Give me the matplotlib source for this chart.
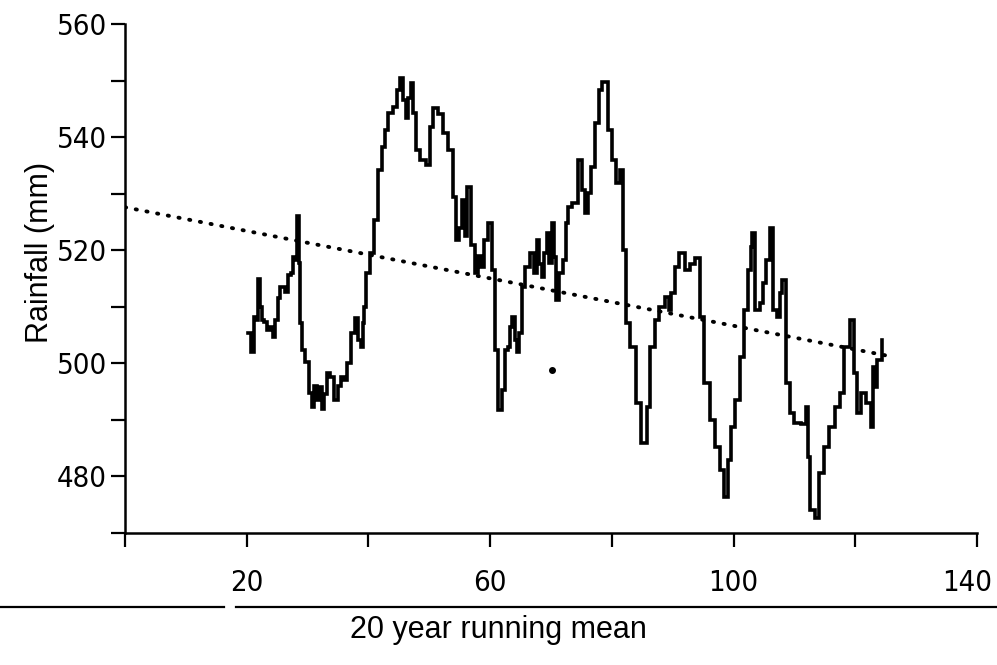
import matplotlib.pyplot as plt
import matplotlib.transforms as mtransforms
from matplotlib.lines import Line2D

# 20 year running mean of rainfall
run_year = [20.2, 21.2, 21.2, 21.9, 21.9, 22.5, 22.5, 23.3, 23.3, 24.3,
            24.3, 25.1, 25.1, 25.8, 26.8, 26.8, 27.6, 27.6, 28.3, 28.3,
            28.8, 28.8, 29.2, 29.9, 30.4, 30.9, 31.3, 31.7, 32.1, 32.5,
            33.0, 33.4, 34.0, 34.8, 35.2, 35.7, 36.2, 36.6, 37.5, 38.1,
            38.5, 38.9, 39.2, 39.4, 39.9, 40.6, 41.1, 41.9, 42.4, 43.0,
            43.5, 44.4, 44.9, 45.5, 45.9, 46.3, 46.8, 47.2, 47.6, 48.0,
            49.0, 49.8, 50.4, 50.9, 51.8, 52.6, 53.7, 54.1, 54.7, 55.2,
            55.7, 56.0, 56.4, 57.2, 57.7, 58.2, 58.7, 59.3, 60.0, 60.5,
            61.0, 61.6, 62.4, 62.4, 63.3, 63.3, 63.8, 64.2, 64.6, 65.0,
            65.4, 66.2, 66.9, 67.4, 67.9, 68.3, 68.7, 69.1, 69.5, 69.9,
            70.3, 70.7, 71.0, 71.5, 72.3, 72.6, 73.1, 73.9, 74.8, 75.3,
            75.9, 76.3, 76.7, 77.6, 78.0, 78.9, 79.7, 80.2, 81.0, 81.6,
            82.2, 82.5, 83.5, 84.3, 85.4, 86.0, 86.6, 87.4, 88.2, 89.1,
            89.5, 90.0, 90.7, 91.5, 92.5, 93.2, 94.0, 94.8, 95.6, 96.5,
            97.3, 98.1, 98.6, 99.4, 99.9, 100.6, 101.4, 101.9, 102.7, 102.9,
            103.2, 103.8, 104.8, 104.8, 105.7, 106.3, 106.8, 107.6, 107.6, 108.4,
            108.9, 109.6, 110.4, 111.6, 112.2, 112.2, 112.9, 113.7, 114.5, 115.3,
            116.2, 117.0, 117.8, 118.6, 119.5, 120.0, 120.4, 121.3, 122.1, 122.9,
            122.9, 123.6, 123.6, 124.4, 124.4]
run_mm = [505.4, 502.0, 508.2, 507.7, 514.9, 510.0, 507.7, 507.3, 505.9, 506.4,
          504.7, 507.7, 511.5, 513.5, 512.6, 515.6, 516.0, 518.8, 518.3, 526.1,
          517.7, 507.1, 502.4, 500.2, 494.8, 492.3, 496.0, 493.5, 495.8, 492.0,
          494.5, 498.3, 497.5, 493.5, 496.0, 497.6, 497.1, 500.1, 505.4, 508.0,
          504.1, 502.9, 507.1, 510.0, 516.0, 519.5, 525.3, 534.2, 538.2, 541.3,
          544.3, 545.3, 548.3, 550.4, 546.5, 543.4, 547.0, 549.6, 544.3, 537.7,
          536.0, 535.1, 541.8, 545.1, 544.0, 540.7, 537.7, 529.4, 521.8, 524.0,
          528.9, 522.5, 531.2, 521.0, 516.0, 519.0, 517.0, 521.8, 524.8, 516.5,
          502.4, 491.7, 495.3, 502.4, 502.9, 506.4, 508.2, 504.1, 502.0, 505.4,
          513.5, 517.0, 519.5, 516.0, 521.8, 517.5, 515.3, 519.5, 523.0, 517.7,
          524.8, 518.8, 511.2, 516.0, 518.3, 524.8, 527.6, 528.3, 535.9, 530.6,
          526.6, 530.1, 534.7, 542.5, 548.3, 549.7, 541.3, 535.9, 531.9, 534.2,
          520.0, 507.1, 502.9, 493.0, 485.9, 492.3, 502.9, 507.7, 510.0, 511.7,
          509.4, 512.4, 517.0, 519.5, 516.5, 517.5, 518.6, 508.2, 496.5, 490.0,
          485.2, 481.1, 476.4, 482.9, 488.7, 493.5, 501.1, 509.4, 516.5, 520.6,
          523.0, 509.4, 510.7, 514.2, 518.3, 523.9, 509.4, 508.2, 512.4, 514.7,
          496.5, 491.2, 489.4, 489.2, 492.3, 483.4, 474.1, 472.6, 480.6, 485.2,
          488.7, 492.3, 494.8, 502.9, 507.7, 498.3, 491.2, 494.8, 493.0, 488.7,
          499.3, 495.8, 500.6, 500.6, 504.1]

# linear trend (dotted)
trend_x = [0, 125]
trend_y = [527.6, 501.4]

# stray dot on the scan
stray_x = [70.2]
stray_y = [498.8]

x_ticks = [0, 20, 40, 60, 80, 100, 120, 140]
x_labeled = [20, 60, 100, 140]
y_ticks = [470, 480, 490, 500, 510, 520, 530, 540, 550, 560]
y_labeled = [480, 500, 520, 540, 560]

fig = plt.figure(figsize=(9.97, 6.65), dpi=100)
ax = fig.add_axes([0.1254, 0.1985, 0.8546, 0.7654])

ax.plot(run_year, run_mm, color='black', lw=2.6, drawstyle='steps-mid',
        solid_joinstyle='miter')
ax.plot(trend_x, trend_y, color='black', lw=2.8, linestyle=(0, (0.3, 2.5)),
        dash_capstyle='round')
ax.plot(stray_x, stray_y, 'o', color='black', ms=4)

ax.set_xlim(0, 140)
ax.set_ylim(470, 560)
for s in ['top', 'right']:
    ax.spines[s].set_visible(False)
for s in ['left', 'bottom']:
    ax.spines[s].set_linewidth(1.8)

tick_font = {'family': ['DejaVu Sans'], 'size': 21, 'stretch': 'condensed'}
ax.set_xticks(x_ticks)
ax.set_xticklabels([str(v) if v in x_labeled else '' for v in x_ticks], fontdict=tick_font)
ax.set_yticks(y_ticks)
ax.set_yticklabels([str(v) if v in y_labeled else '' for v in y_ticks], fontdict=tick_font)
ax.tick_params(direction='out', length=10, width=1.6)
ax.tick_params(axis='x', pad=16)
ax.tick_params(axis='y', pad=3)

# last x label sits a bit left of its tick in the original
last = ax.get_xticklabels()[-1]
last.set_transform(last.get_transform() +
                   mtransforms.ScaledTranslation(-10 / 100, 0, fig.dpi_scale_trans))

# rule under the tick labels
fig.add_artist(Line2D([0, 0.2247], [0.0872, 0.0872], transform=fig.transFigure,
                      color='black', lw=1.6))
fig.add_artist(Line2D([0.2367, 1.0], [0.0872, 0.0872], transform=fig.transFigure,
                      color='black', lw=1.6))

fig.text(0.4995, 0.053, '20 year running mean', ha='center', va='center',
         fontsize=22, family=['Liberation Sans', 'DejaVu Sans'])
fig.text(0.040, 0.621, 'Rainfall (mm)', ha='center', va='center', rotation=90,
         fontsize=22, family=['Liberation Sans', 'DejaVu Sans'])

fig.savefig('out.png', dpi=100)
